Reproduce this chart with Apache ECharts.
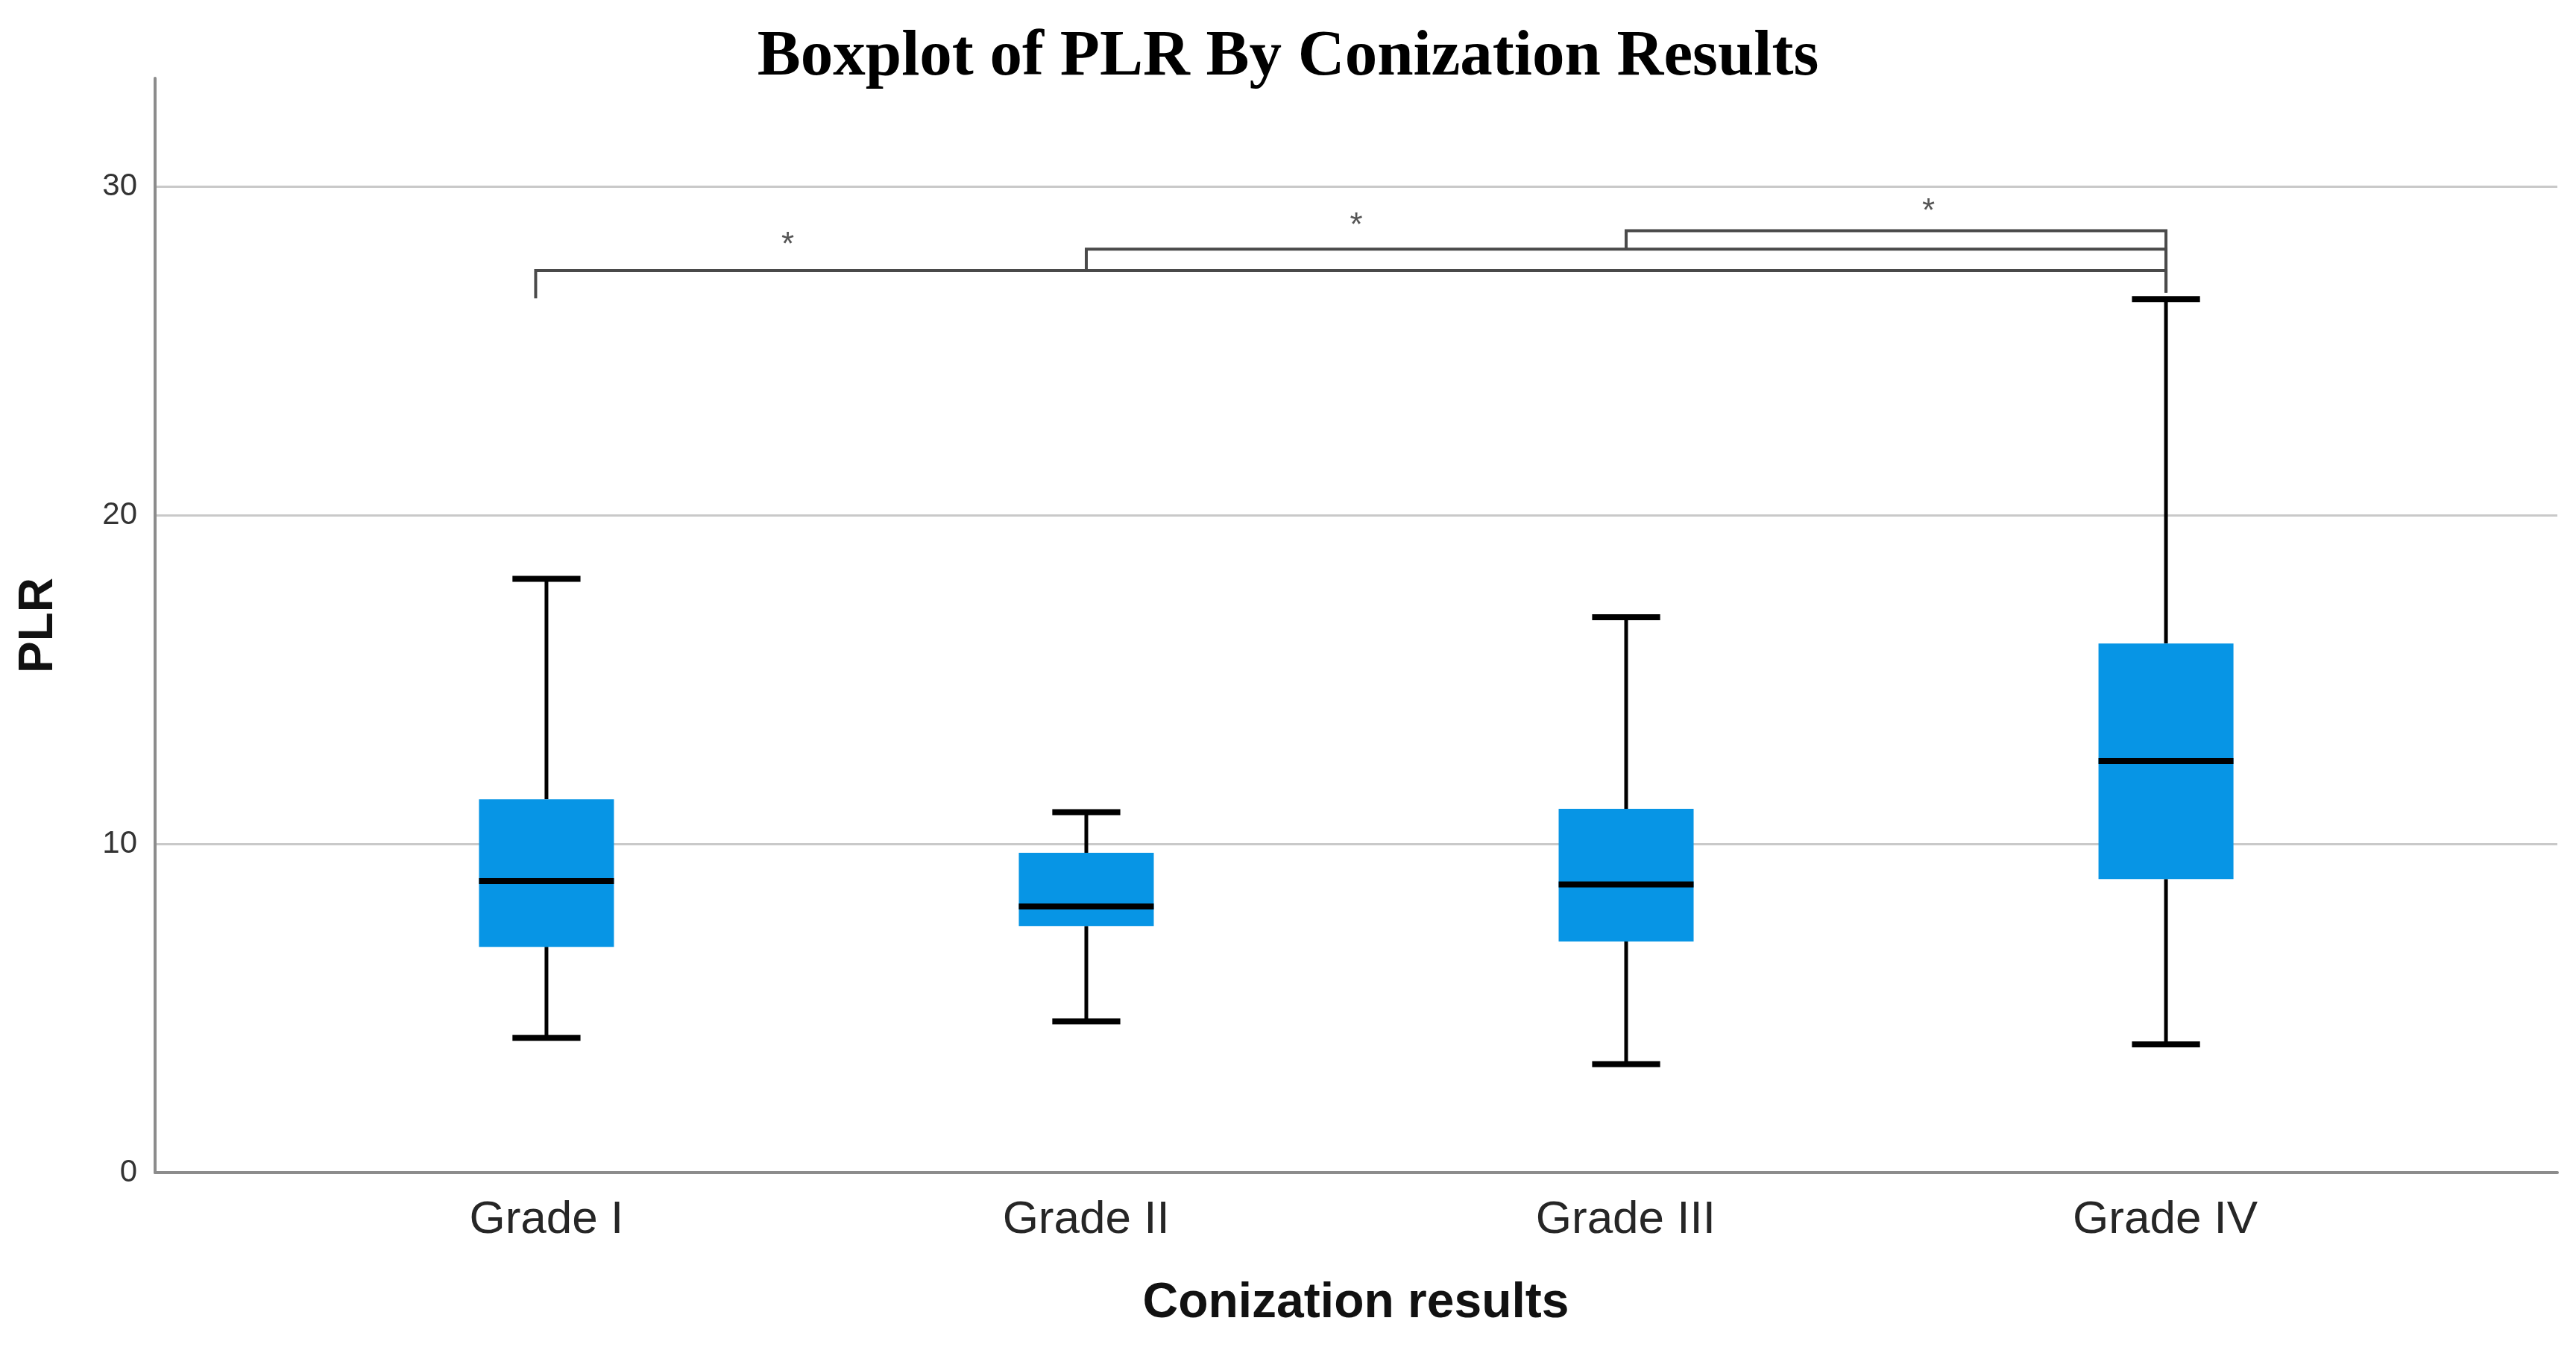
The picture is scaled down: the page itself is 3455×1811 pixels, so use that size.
<!DOCTYPE html>
<html>
<head>
<meta charset="utf-8">
<title>Boxplot of PLR By Conization Results</title>
<script src="https://cdn.jsdelivr.net/npm/echarts@6/dist/echarts.min.js"></script>
<style>
  html, body { margin: 0; padding: 0; background: #fff; }
  #chart { width: 3455px; height: 1811px; }
</style>
</head>
<body>
<div id="chart"></div>
<script>
// ---- data ----
var categories = ['Grade I', 'Grade II', 'Grade III', 'Grade IV'];
var positions = [1, 2, 3, 4];
var whiskerLow = [4.1, 4.6, 3.3, 3.9];
var q1 = [6.87, 7.5, 7.03, 8.93];
var medians = [8.87, 8.1, 8.77, 12.52];
var q3 = [11.36, 9.73, 11.07, 16.1];
var whiskerHigh = [18.07, 10.97, 16.9, 26.58];

// significance brackets (all end on Grade IV)
var bracketFrom = [0.98, 2, 3];
var bracketTo = [4, 4, 4];
var bracketLevel = [27.45, 28.1, 28.66];
var bracketLegEnd = [26.6, 27.45, 28.1];
var bracketRightEnd = [26.78, 26.78, 26.78];
var starX = [1.447, 2.5, 3.56];
var starY = [28.2, 28.78, 29.22];
var starText = ['*', '*', '*'];

var yTicks = [0, 10, 20, 30];

// ---- build rows for the series ----
var boxRows = [];
for (var i = 0; i < categories.length; i++) {
    boxRows.push([positions[i], whiskerLow[i], q1[i], medians[i], q3[i], whiskerHigh[i]]);
}
var bracketRows = [];
for (var j = 0; j < bracketFrom.length; j++) {
    bracketRows.push([bracketFrom[j], bracketTo[j], bracketLevel[j], bracketLegEnd[j], bracketRightEnd[j]]);
}
var starRows = [];
for (var k = 0; k < starX.length; k++) {
    starRows.push([starX[k], starY[k], starText[k]]);
}

function renderBox(params, api) {
    var x = api.value(0);
    var lo = api.coord([x, api.value(1)]);
    var b1 = api.coord([x, api.value(2)]);
    var md = api.coord([x, api.value(3)]);
    var b3 = api.coord([x, api.value(4)]);
    var hi = api.coord([x, api.value(5)]);
    var half = api.size([0.125, 0])[0];
    var cap = api.size([0.063, 0])[0];
    var cx = md[0];
    var whisker = { stroke: '#000', lineWidth: 5 };
    var capStyle = { stroke: '#000', lineWidth: 8 };
    return {
        type: 'group',
        children: [
            { type: 'line', shape: { x1: cx, y1: hi[1], x2: cx, y2: b3[1] }, style: whisker },
            { type: 'line', shape: { x1: cx, y1: b1[1], x2: cx, y2: lo[1] }, style: whisker },
            { type: 'line', shape: { x1: cx - cap, y1: hi[1], x2: cx + cap, y2: hi[1] }, style: capStyle },
            { type: 'line', shape: { x1: cx - cap, y1: lo[1], x2: cx + cap, y2: lo[1] }, style: capStyle },
            { type: 'rect', shape: { x: cx - half, y: b3[1], width: half * 2, height: b1[1] - b3[1] },
              style: { fill: '#0795e5' } },
            { type: 'line', shape: { x1: cx - half, y1: md[1], x2: cx + half, y2: md[1] },
              style: { stroke: '#000', lineWidth: 8 } }
        ]
    };
}

function renderBracket(params, api) {
    var pLegEnd = api.coord([api.value(0), api.value(3)]);
    var pLeft = api.coord([api.value(0), api.value(2)]);
    var pRight = api.coord([api.value(1), api.value(2)]);
    var pRightEnd = api.coord([api.value(1), api.value(4)]);
    return {
        type: 'polyline',
        shape: { points: [pLegEnd, pLeft, pRight, pRightEnd] },
        style: { stroke: '#4a4a4a', lineWidth: 4, fill: null }
    };
}

function renderStar(params, api) {
    var p = api.coord([api.value(0), api.value(1)]);
    return {
        type: 'text',
        x: p[0],
        y: p[1],
        style: {
            text: api.value(2),
            fill: '#555',
            fontSize: 44,
            fontFamily: 'Liberation Sans',
            align: 'center',
            verticalAlign: 'middle'
        }
    };
}

var dom = document.getElementById('chart');
var myChart = echarts.init(dom, null, { renderer: 'canvas' });

var option = {
    backgroundColor: '#fff',
    animation: false,
    title: {
        text: 'Boxplot of PLR By Conization Results',
        left: 'center',
        top: 29,
        textStyle: {
            fontFamily: 'Liberation Serif',
            fontWeight: 'bold',
            fontSize: 87,
            color: '#000'
        }
    },
    grid: [
        { left: 208, right: 25, top: 105, bottom: 238 },
        // label grid: its category bands sit on the box centres
        { left: 371, right: 189, top: 105, bottom: 238 }
    ],
    xAxis: [{
        type: 'value',
        gridIndex: 0,
        min: 0.275,
        max: 4.725,
        axisLine: { show: true, lineStyle: { color: '#8c8c8c', width: 4 } },
        axisTick: { show: false },
        axisLabel: { show: false },
        splitLine: { show: false }
    }, {
        type: 'category',
        gridIndex: 1,
        data: categories,
        axisLine: { show: false },
        axisTick: { show: false },
        axisLabel: {
            margin: 33,
            fontFamily: 'Liberation Sans',
            fontSize: 62,
            color: '#262626'
        },
        name: 'Conization results',
        nameLocation: 'middle',
        nameGap: 143,
        nameTextStyle: {
            fontFamily: 'Liberation Sans',
            fontWeight: 'bold',
            fontSize: 66,
            color: '#111'
        }
    }],
    yAxis: [{
        type: 'value',
        gridIndex: 0,
        min: yTicks[0],
        max: 33.3,
        interval: 10,
        axisLine: { show: true, lineStyle: { color: '#8c8c8c', width: 4 } },
        axisTick: { show: false },
        axisLabel: {
            showMaxLabel: false,
            margin: 24,
            fontFamily: 'Liberation Sans',
            fontSize: 42,
            color: '#333'
        },
        splitLine: {
            show: true,
            showMinLine: false,
            showMaxLine: false,
            lineStyle: { color: '#c9c9c9', width: 3 }
        },
        name: 'PLR',
        nameLocation: 'middle',
        nameRotate: 90,
        nameGap: 124,
        nameTextStyle: {
            fontFamily: 'Liberation Sans',
            fontWeight: 'bold',
            fontSize: 64,
            color: '#111'
        }
    }, {
        type: 'value',
        gridIndex: 1,
        min: 0,
        max: 1,
        show: false
    }],
    series: [{
        type: 'custom',
        name: 'PLR',
        xAxisIndex: 0,
        yAxisIndex: 0,
        renderItem: renderBox,
        encode: { x: 0, y: [1, 2, 3, 4, 5] },
        data: boxRows,
        z: 3
    }, {
        type: 'custom',
        name: 'brackets',
        xAxisIndex: 0,
        yAxisIndex: 0,
        renderItem: renderBracket,
        encode: { x: [0, 1], y: [2, 3, 4] },
        data: bracketRows,
        z: 4
    }, {
        type: 'custom',
        name: 'stars',
        xAxisIndex: 0,
        yAxisIndex: 0,
        renderItem: renderStar,
        encode: { x: 0, y: 1 },
        data: starRows,
        z: 4
    }]
};

myChart.setOption(option);
</script>
</body>
</html>
